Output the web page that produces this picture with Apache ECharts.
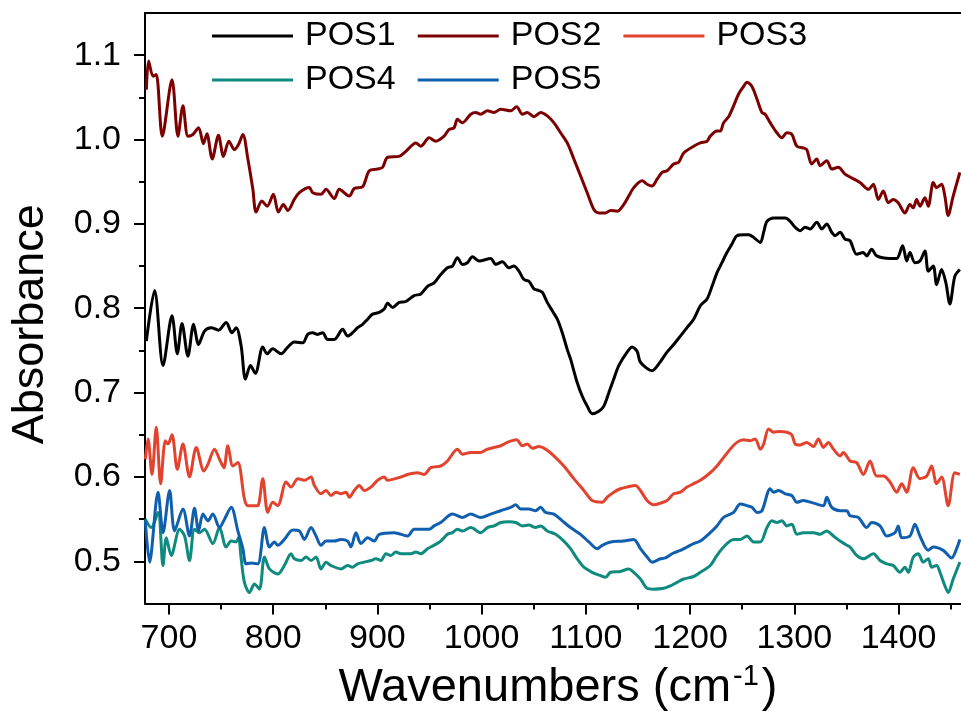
<!DOCTYPE html>
<html>
<head>
<meta charset="utf-8">
<script src="https://cdn.jsdelivr.net/npm/echarts@6/dist/echarts.min.js"></script>
<style>html,body{margin:0;padding:0;background:#fff}#c{width:961px;height:717px}</style>
</head>
<body>
<div id="c"></div>
<script>
var seriesNames = ['POS1','POS2','POS3','POS4','POS5'];
var xTickLabels = [700,800,900,1000,1100,1200,1300,1400];
var xMinorTicks = [750,850,950,1050,1150,1250,1350,1450];
var yTickLabels = [0.5,0.6,0.7,0.8,0.9,1.0,1.1];
var yMinorTicks = [0.55,0.65,0.75,0.85,0.95,1.05];

var pos1X = [678.3,686.2,694.3,702.9,708.0,712.5,718.2,723.6,728.4,734.1,740.5,747.5,754.9,760.3,764.5,769.3,773.4,778.2,782.9,790.0,794.2,799.6,807.6,814.0,820.3,828.4,833.1,837.9,842.7,847.5,852.3,858.6,866.7,871.5,876.2,881.0,885.8,890.6,895.4,901.7,906.5,909.8,914.6,920.9,927.3,935.3,941.7,948.1,954.4,960.8,967.2,972.0,976.8,981.6,986.4,991.2,997.5,1008.7,1013.5,1019.9,1026.2,1031.0,1035.8,1040.6,1045.4,1050.2,1055.0,1058.2,1063.0,1067.8,1072.6,1077.4,1082.2,1085.3,1091.7,1096.5,1101.3,1106.1,1112.5,1117.3,1122.1,1126.8,1131.6,1139.6,1144.4,1149.2,1152.4,1163.6,1170.0,1177.9,1184.3,1190.7,1197.1,1203.5,1209.9,1216.3,1221.1,1225.8,1230.6,1235.4,1240.2,1245.0,1251.4,1256.2,1261.0,1267.4,1270.6,1273.8,1280.2,1286.6,1291.4,1296.1,1300.9,1305.7,1310.5,1315.3,1321.6,1326.4,1331.2,1336.0,1339.2,1344.0,1348.7,1353.5,1359.9,1366.3,1369.5,1374.3,1379.1,1391.9,1398.3,1404.0,1407.9,1411.0,1415.8,1420.6,1425.4,1428.6,1433.4,1436.6,1441.4,1445.5,1449.3,1454.1,1458.9];
var pos1Y = [0.761,0.821,0.732,0.791,0.746,0.782,0.743,0.781,0.757,0.773,0.777,0.774,0.783,0.771,0.777,0.755,0.716,0.732,0.723,0.754,0.746,0.752,0.746,0.754,0.760,0.759,0.769,0.771,0.769,0.771,0.763,0.763,0.775,0.767,0.771,0.777,0.781,0.787,0.793,0.795,0.799,0.806,0.801,0.807,0.808,0.815,0.817,0.826,0.830,0.840,0.848,0.850,0.860,0.852,0.854,0.861,0.856,0.859,0.852,0.855,0.848,0.850,0.844,0.834,0.832,0.823,0.821,0.819,0.807,0.797,0.787,0.771,0.751,0.740,0.712,0.696,0.684,0.675,0.678,0.684,0.700,0.716,0.732,0.748,0.754,0.749,0.736,0.726,0.734,0.748,0.757,0.767,0.777,0.787,0.803,0.811,0.826,0.842,0.854,0.866,0.876,0.886,0.887,0.887,0.884,0.878,0.890,0.903,0.907,0.907,0.907,0.903,0.896,0.892,0.896,0.894,0.902,0.894,0.900,0.890,0.886,0.890,0.882,0.880,0.864,0.866,0.862,0.870,0.862,0.859,0.859,0.874,0.856,0.866,0.854,0.856,0.868,0.844,0.850,0.828,0.846,0.830,0.805,0.838,0.846];

var pos2X = [678.3,680.5,684.7,687.8,693.6,702.9,708.6,713.4,718.2,723.0,728.4,733.1,736.4,741.5,747.5,752.3,757.5,762.8,766.7,770.9,775.7,780.5,783.6,789.1,794.2,800.2,805.0,809.8,814.0,820.3,825.1,834.7,837.9,845.9,850.7,858.6,863.4,873.0,877.8,885.8,892.2,900.2,905.0,909.8,920.9,927.3,936.9,941.7,949.6,956.0,964.0,968.8,973.6,976.8,981.6,989.6,994.4,999.1,1005.6,1011.9,1018.3,1027.9,1033.6,1039.1,1043.9,1050.2,1056.6,1063.0,1069.3,1075.8,1082.2,1088.5,1094.9,1101.3,1107.7,1112.5,1118.9,1123.7,1130.0,1136.4,1141.2,1146.0,1154.0,1158.8,1163.6,1168.4,1173.2,1178.0,1184.3,1189.1,1193.9,1203.5,1209.9,1216.3,1219.4,1225.8,1229.0,1232.2,1237.0,1241.8,1246.6,1251.4,1254.6,1259.4,1264.2,1269.0,1272.1,1276.9,1283.3,1288.1,1292.9,1297.7,1302.5,1308.8,1312.0,1316.8,1321.6,1324.8,1331.2,1336.0,1342.3,1348.7,1363.1,1371.1,1375.9,1380.7,1385.5,1390.2,1395.0,1399.8,1406.2,1411.0,1414.2,1417.4,1420.6,1425.4,1428.6,1433.4,1436.6,1441.4,1444.5,1447.7,1452.5,1458.9];
var pos2Y = [1.059,1.093,1.075,1.077,1.004,1.071,1.004,1.040,1.004,1.006,1.014,0.995,1.007,0.977,1.005,0.980,0.998,0.988,0.994,1.006,0.977,0.941,0.914,0.927,0.921,0.935,0.914,0.923,0.916,0.929,0.937,0.943,0.937,0.935,0.941,0.930,0.941,0.933,0.942,0.944,0.963,0.965,0.967,0.979,0.980,0.986,0.996,0.992,1.002,0.998,1.004,1.012,1.014,1.024,1.020,1.030,1.032,1.030,1.034,1.032,1.036,1.034,1.039,1.030,1.032,1.027,1.032,1.028,1.020,1.008,0.996,0.977,0.957,0.937,0.917,0.913,0.913,0.916,0.915,0.923,0.933,0.943,0.951,0.947,0.945,0.953,0.961,0.963,0.971,0.973,0.984,0.992,0.996,0.998,1.004,1.010,1.010,1.020,1.027,1.040,1.054,1.063,1.068,1.063,1.048,1.032,1.030,1.020,1.008,1.002,1.008,1.006,0.992,0.990,0.988,0.971,0.977,0.969,0.975,0.965,0.967,0.959,0.949,0.941,0.947,0.929,0.939,0.925,0.929,0.925,0.913,0.923,0.919,0.929,0.921,0.931,0.921,0.949,0.943,0.947,0.933,0.910,0.933,0.961];

var pos3X = [677.3,679.9,683.7,687.8,692.0,696.5,699.0,702.9,708.0,713.4,719.7,726.2,733.5,737.4,743.7,748.5,752.7,756.5,761.3,766.1,772.4,775.7,782.0,785.2,790.0,794.8,799.6,804.4,812.4,817.1,823.6,829.9,836.3,839.5,845.9,850.7,855.5,860.3,865.0,869.8,873.0,877.8,882.6,887.4,893.8,900.2,906.5,909.8,922.5,928.9,938.5,944.8,951.2,960.8,967.2,976.8,981.6,989.6,999.1,1005.6,1011.9,1018.3,1024.7,1033.6,1039.1,1043.9,1048.7,1055.0,1061.4,1069.3,1078.9,1088.5,1098.1,1106.1,1115.7,1120.5,1126.8,1133.2,1139.6,1147.6,1152.4,1158.8,1165.2,1171.6,1177.9,1184.3,1190.7,1197.1,1203.5,1209.9,1219.4,1225.8,1232.2,1238.6,1245.0,1251.4,1257.8,1262.6,1267.4,1270.6,1275.4,1280.2,1286.6,1293.0,1297.7,1300.9,1305.7,1312.1,1318.4,1323.2,1328.0,1332.8,1337.6,1344.0,1347.1,1353.5,1359.9,1366.3,1372.7,1379.1,1385.5,1391.9,1398.3,1403.1,1407.9,1414.2,1420.6,1427.0,1431.8,1436.6,1441.4,1447.7,1454.1,1458.9];
var pos3Y = [0.621,0.645,0.603,0.659,0.592,0.643,0.639,0.650,0.609,0.639,0.600,0.635,0.607,0.615,0.633,0.621,0.611,0.637,0.613,0.617,0.574,0.566,0.566,0.566,0.598,0.558,0.570,0.566,0.594,0.588,0.598,0.596,0.600,0.590,0.580,0.584,0.578,0.582,0.580,0.582,0.576,0.584,0.590,0.584,0.588,0.596,0.600,0.596,0.600,0.603,0.605,0.603,0.611,0.613,0.619,0.633,0.627,0.629,0.629,0.633,0.635,0.637,0.641,0.644,0.637,0.639,0.634,0.636,0.633,0.625,0.613,0.598,0.584,0.572,0.570,0.576,0.582,0.586,0.588,0.590,0.584,0.572,0.567,0.569,0.572,0.580,0.582,0.588,0.592,0.596,0.605,0.613,0.623,0.633,0.641,0.644,0.643,0.645,0.633,0.639,0.657,0.653,0.654,0.653,0.650,0.639,0.638,0.641,0.636,0.645,0.635,0.641,0.633,0.625,0.629,0.619,0.617,0.603,0.619,0.601,0.601,0.594,0.582,0.592,0.582,0.611,0.598,0.601,0.613,0.592,0.600,0.566,0.605,0.603];

var pos4X = [677.3,683.0,689.5,694.3,697.4,702.2,710.2,715.0,719.7,724.5,729.3,734.1,742.1,748.5,754.9,759.7,764.5,766.7,769.3,772.4,777.2,782.0,786.8,791.6,796.4,804.4,810.7,817.1,820.3,826.8,831.5,836.3,841.1,845.9,850.7,855.5,865.0,871.5,876.2,881.0,887.4,893.8,898.6,903.4,908.2,913.0,917.7,922.5,932.1,936.9,941.7,948.1,954.4,960.8,967.2,972.0,976.8,981.6,989.6,999.1,1005.6,1011.9,1018.3,1026.2,1032.7,1039.1,1045.4,1051.8,1056.6,1063.0,1071.0,1078.9,1085.3,1091.7,1098.1,1106.1,1114.1,1118.9,1123.7,1133.2,1141.2,1146.0,1152.4,1158.8,1165.2,1174.8,1181.1,1187.5,1193.9,1203.5,1209.9,1219.4,1225.8,1232.2,1241.8,1248.2,1254.6,1261.0,1267.4,1273.8,1278.6,1283.4,1288.1,1292.9,1297.7,1302.5,1308.8,1318.4,1324.8,1331.2,1337.6,1344.0,1350.4,1353.5,1359.9,1366.3,1375.9,1382.3,1388.7,1395.0,1401.4,1406.2,1409.4,1414.2,1419.0,1423.8,1428.6,1431.8,1436.6,1439.8,1444.5,1447.7,1452.5,1458.9];
var pos4Y = [0.550,0.540,0.558,0.495,0.528,0.507,0.538,0.530,0.501,0.538,0.534,0.538,0.521,0.540,0.517,0.524,0.523,0.528,0.503,0.475,0.463,0.473,0.467,0.505,0.491,0.485,0.495,0.509,0.503,0.501,0.505,0.501,0.505,0.491,0.499,0.495,0.491,0.495,0.493,0.497,0.499,0.501,0.503,0.501,0.509,0.507,0.511,0.509,0.509,0.511,0.509,0.515,0.519,0.524,0.532,0.534,0.538,0.536,0.540,0.534,0.540,0.542,0.546,0.547,0.546,0.542,0.543,0.540,0.542,0.536,0.532,0.524,0.515,0.503,0.493,0.487,0.483,0.481,0.487,0.488,0.491,0.487,0.479,0.468,0.467,0.468,0.471,0.475,0.479,0.482,0.487,0.495,0.507,0.517,0.526,0.526,0.530,0.523,0.523,0.540,0.548,0.546,0.548,0.542,0.544,0.532,0.534,0.534,0.532,0.536,0.530,0.524,0.519,0.517,0.507,0.503,0.509,0.501,0.497,0.495,0.487,0.493,0.487,0.505,0.509,0.499,0.503,0.493,0.495,0.487,0.471,0.463,0.479,0.499];

var pos5X = [677.3,681.4,689.5,694.3,700.6,705.4,713.4,719.7,724.5,728.4,732.6,737.4,742.1,748.5,753.3,759.7,766.1,770.9,774.1,778.9,785.2,791.6,796.4,801.2,804.4,810.7,818.8,825.1,829.9,836.3,841.1,845.9,850.7,858.6,865.0,871.5,874.6,879.4,884.2,890.6,897.0,901.7,916.1,928.9,935.3,949.6,954.4,960.8,972.0,981.6,989.6,999.1,1008.7,1018.3,1027.9,1032.7,1037.5,1045.4,1051.8,1056.6,1061.4,1069.3,1077.4,1085.3,1094.9,1102.9,1110.9,1115.7,1123.7,1136.4,1146.0,1152.4,1158.8,1163.6,1171.6,1176.4,1182.7,1190.7,1197.1,1203.5,1209.9,1219.4,1225.8,1232.2,1241.8,1248.2,1254.6,1259.4,1264.2,1269.0,1276.9,1280.2,1285.0,1291.4,1297.7,1302.5,1308.8,1318.4,1328.0,1331.2,1336.0,1344.0,1350.4,1353.5,1361.5,1369.5,1374.3,1382.3,1388.7,1396.7,1399.8,1403.1,1411.0,1415.8,1420.6,1428.6,1433.4,1443.0,1451.0,1455.8,1458.9];
var pos5Y = [0.548,0.499,0.582,0.534,0.584,0.536,0.562,0.530,0.563,0.536,0.556,0.548,0.556,0.540,0.550,0.564,0.536,0.515,0.497,0.498,0.497,0.540,0.517,0.523,0.519,0.526,0.537,0.536,0.526,0.540,0.530,0.519,0.524,0.524,0.526,0.524,0.517,0.534,0.521,0.528,0.524,0.532,0.534,0.530,0.538,0.538,0.542,0.546,0.556,0.552,0.556,0.552,0.556,0.560,0.564,0.567,0.562,0.562,0.560,0.564,0.558,0.556,0.548,0.540,0.532,0.523,0.515,0.519,0.523,0.524,0.526,0.515,0.505,0.499,0.503,0.504,0.509,0.513,0.517,0.521,0.524,0.534,0.542,0.552,0.558,0.568,0.566,0.564,0.558,0.560,0.586,0.582,0.584,0.580,0.578,0.570,0.572,0.569,0.566,0.576,0.564,0.560,0.560,0.554,0.552,0.540,0.546,0.542,0.530,0.534,0.542,0.528,0.530,0.544,0.530,0.513,0.517,0.513,0.504,0.515,0.526];

var colors = ['#000000','#7d0000','#e2432e','#0f8a7f','#0f5fae'];
var xs = [pos1X,pos2X,pos3X,pos4X,pos5X];
var ys = [pos1Y,pos2Y,pos3Y,pos4Y,pos5Y];

var FONT = 'Liberation Sans, Arial, sans-serif';
var XMIN = 677, XMAX = 1460, YMIN = 0.45, YMAX = 1.15;

function pairs(x, y) { return x.map(function (v, i) { return [v, y[i]]; }); }

var series = seriesNames.map(function (n, i) {
  return {
    name: n, type: 'line', xAxisIndex: 0, yAxisIndex: 0,
    data: pairs(xs[i], ys[i]),
    showSymbol: false, symbol: 'none', smooth: 0.3,
    lineStyle: { color: colors[i], width: 3 },
    itemStyle: { color: colors[i] },
    clip: true
  };
});

var legendCommon = {
  orient: 'horizontal', icon: 'rect', itemWidth: 81, itemHeight: 3, itemGap: 22,
  padding: 0, selectedMode: false,
  textStyle: { fontSize: 34, fontFamily: FONT, color: '#000', lineHeight: 34, padding: [0, 0, 0, 7] }
};

var option = {
  backgroundColor: '#fff',
  animation: false,
  color: colors,
  grid: { left: 144, right: 0, top: 13, bottom: 112, containLabel: false },
  legend: [
    Object.assign({}, legendCommon, { data: seriesNames.slice(0, 3), left: 212, top: 19 }),
    Object.assign({}, legendCommon, { data: seriesNames.slice(3), left: 212, top: 63 })
  ],
  xAxis: [
    {
      type: 'value', position: 'bottom', min: XMIN, max: XMAX,
      name: '{a|Wavenumbers (cm}{s|-1}{a|)}', nameLocation: 'middle', nameGap: 59,
      nameTextStyle: {
        padding: [0, 0, 0, 10],
        rich: {
          a: { fontSize: 47, fontFamily: FONT, color: '#000', lineHeight: 52 },
          s: { fontSize: 29, fontFamily: FONT, color: '#000', lineHeight: 29, verticalAlign: 'top', padding: [0, 3, 0, 2] }
        }
      },
      axisLine: { show: true, onZero: false, lineStyle: { color: '#000', width: 2 } },
      axisTick: { show: true, length: 11, lineStyle: { color: '#000', width: 2 }, customValues: xTickLabels },
      axisLabel: {
        show: true, fontSize: 34, fontFamily: FONT, color: '#000', margin: 18, customValues: xTickLabels,
        formatter: function (v) { return String(Math.round(v)); }
      },
      splitLine: { show: false }
    },
    {
      type: 'value', position: 'bottom', min: XMIN, max: XMAX,
      axisLine: { show: false },
      axisTick: { show: true, length: 6, lineStyle: { color: '#000', width: 2 }, customValues: xMinorTicks },
      axisLabel: { show: false },
      splitLine: { show: false }
    },
    {
      type: 'value', position: 'top', min: XMIN, max: XMAX,
      axisLine: { show: true, onZero: false, lineStyle: { color: '#000', width: 2 } },
      axisTick: { show: false }, axisLabel: { show: false }, splitLine: { show: false }
    }
  ],
  yAxis: [
    {
      type: 'value', position: 'left', min: YMIN, max: YMAX,
      name: 'Absorbance', nameLocation: 'middle', nameGap: 92,
      nameTextStyle: { fontSize: 45, fontFamily: FONT, color: '#000', padding: [0, 32, 0, 0] },
      axisLine: { show: true, onZero: false, lineStyle: { color: '#000', width: 2 } },
      axisTick: { show: true, length: 11, lineStyle: { color: '#000', width: 2 }, customValues: yTickLabels },
      axisLabel: {
        show: true, fontSize: 34, fontFamily: FONT, color: '#000', margin: 24, customValues: yTickLabels,
        formatter: function (v) { return Number(v).toFixed(1); }
      },
      splitLine: { show: false }
    },
    {
      type: 'value', position: 'left', min: YMIN, max: YMAX,
      axisLine: { show: false },
      axisTick: { show: true, length: 6, lineStyle: { color: '#000', width: 2 }, customValues: yMinorTicks },
      axisLabel: { show: false },
      splitLine: { show: false }
    }
  ],
  series: series
};

var chart = echarts.init(document.getElementById('c'), null, { renderer: 'canvas' });
chart.setOption(option);
</script>
</body>
</html>
